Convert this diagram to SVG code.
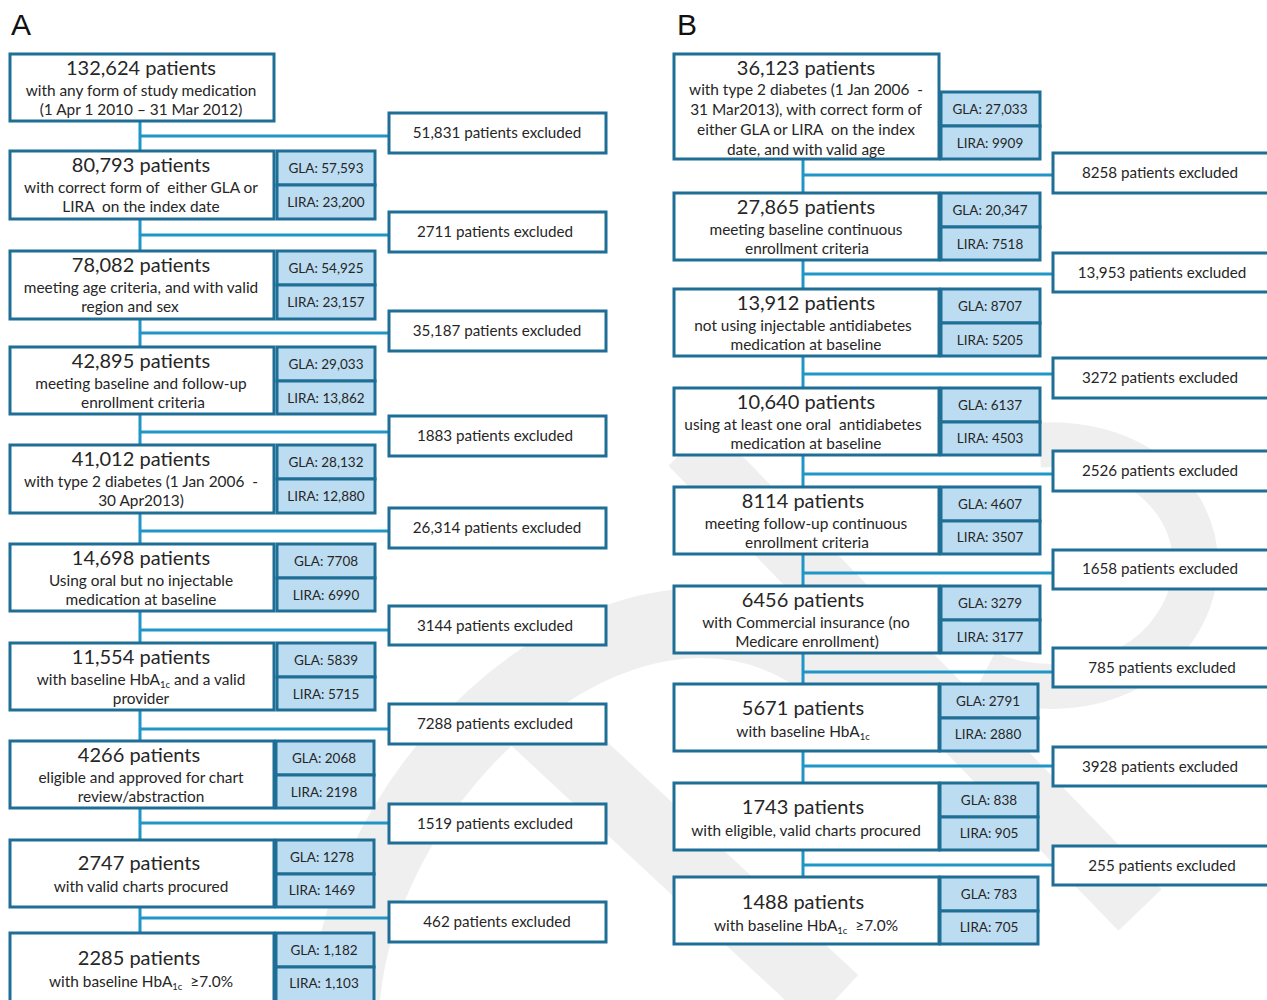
<svg xmlns="http://www.w3.org/2000/svg" width="1267" height="1000" viewBox="0 0 1267 1000" xml:space="preserve">
<style>
.bg{fill:#ffffff}
.wm{fill:none;stroke:#efefef;stroke-linecap:butt}
.main{fill:#ffffff;stroke:#1f6e96;stroke-width:3}
.side{fill:#bcdcf1;stroke:#1f6e96;stroke-width:3}
.excl{fill:#ffffff;stroke:#1f6e96;stroke-width:3}
.conn{fill:none;stroke:#2195c8;stroke-width:3}
text{font-family:Lato,"Open Sans","Liberation Sans",sans-serif;fill:#262626;text-anchor:middle;white-space:pre}
.t1{font-size:20px}
.t2{font-size:15.4px}
.ts{font-size:13.5px}
.te{font-size:15.2px}
.sub{font-size:9.5px}
.panel{font-family:"Liberation Sans",Arial,sans-serif;font-size:30px;text-anchor:start;fill:#111}
</style>
<rect class="bg" x="0" y="0" width="1267" height="1000"/>
<g id="watermark">
<path class="wm" stroke-width="70" d="M 345 1000 C 360 820 520 640 680 624 C 760 617 820 650 860 700"/>
<path class="wm" stroke-width="68" d="M 525 712 L 835 1000"/>
<path class="wm" stroke-width="60" d="M 690 445 L 1140 910"/>
<path class="wm" stroke-width="45" d="M 1040 445 C 1180 440 1235 560 1165 640 C 1115 695 1030 695 985 672"/>
</g>
<text class="panel" x="11" y="35">A</text>
<text class="panel" x="677" y="35">B</text>
<g id="connectors">
<path class="conn" d="M140 121 V933 M140 136 H389 M140 235 H389 M140 333 H389 M140 432 H389 M140 531 H389 M140 630 H389 M140 729 H389 M140 823 H389 M140 918 H389"/>
<path class="conn" d="M803 159 V877 M803 175 H1053 M803 274 H1053 M803 374 H1053 M803 474 H1053 M803 573 H1053 M803 672 H1053 M803 766 H1053 M803 865 H1053"/>
</g>
<g id="a1"><rect class="main" x="10" y="54" width="264" height="67"/><text class="t1" x="141" y="75">132,624 patients</text><text class="t2" x="141" y="96">with any form of study medication</text><text class="t2" x="141" y="115">(1 Apr 1 2010 – 31 Mar 2012)</text></g>
<g id="a2"><rect class="main" x="10" y="151" width="264" height="68"/><text class="t1" x="141" y="172">80,793 patients</text><text class="t2" x="141" y="193">with correct form of  either GLA or</text><text class="t2" x="141" y="212">LIRA  on the index date</text><rect class="side" x="277" y="151" width="98" height="34"/><text class="ts" x="326" y="173">GLA: 57,593</text><rect class="side" x="277" y="185" width="98" height="34"/><text class="ts" x="326" y="207">LIRA: 23,200</text></g>
<g id="a3"><rect class="main" x="10" y="251" width="264" height="68"/><text class="t1" x="141" y="272">78,082 patients</text><text class="t2" x="141" y="293">meeting age criteria, and with valid</text><text class="t2" x="130" y="312">region and sex</text><rect class="side" x="277" y="251" width="98" height="34"/><text class="ts" x="326" y="273">GLA: 54,925</text><rect class="side" x="277" y="285" width="98" height="34"/><text class="ts" x="326" y="307">LIRA: 23,157</text></g>
<g id="a4"><rect class="main" x="10" y="347" width="264" height="67"/><text class="t1" x="141" y="368">42,895 patients</text><text class="t2" x="141" y="389">meeting baseline and follow-up</text><text class="t2" x="143" y="408">enrollment criteria</text><rect class="side" x="277" y="347" width="98" height="34"/><text class="ts" x="326" y="369">GLA: 29,033</text><rect class="side" x="277" y="381" width="98" height="33"/><text class="ts" x="326" y="403">LIRA: 13,862</text></g>
<g id="a5"><rect class="main" x="10" y="445" width="264" height="68"/><text class="t1" x="141" y="466">41,012 patients</text><text class="t2" x="141" y="487">with type 2 diabetes (1 Jan 2006  -</text><text class="t2" x="141" y="506">30 Apr2013)</text><rect class="side" x="277" y="445" width="98" height="34"/><text class="ts" x="326" y="467">GLA: 28,132</text><rect class="side" x="277" y="479" width="98" height="34"/><text class="ts" x="326" y="501">LIRA: 12,880</text></g>
<g id="a6"><rect class="main" x="10" y="544" width="264" height="67"/><text class="t1" x="141" y="565">14,698 patients</text><text class="t2" x="141" y="586">Using oral but no injectable</text><text class="t2" x="141" y="605">medication at baseline</text><rect class="side" x="277" y="544" width="98" height="34"/><text class="ts" x="326" y="566">GLA: 7708</text><rect class="side" x="277" y="578" width="98" height="33"/><text class="ts" x="326" y="600">LIRA: 6990</text></g>
<g id="a7"><rect class="main" x="10" y="643" width="264" height="67"/><text class="t1" x="141" y="664">11,554 patients</text><text class="t2" x="141" y="685">with baseline HbA<tspan class="sub" dy="3">1c</tspan><tspan dy="-3"> and a valid</tspan></text><text class="t2" x="141" y="704">provider</text><rect class="side" x="277" y="643" width="98" height="34"/><text class="ts" x="326" y="665">GLA: 5839</text><rect class="side" x="277" y="677" width="98" height="33"/><text class="ts" x="326" y="699">LIRA: 5715</text></g>
<g id="a8"><rect class="main" x="10" y="741" width="264" height="67"/><text class="t1" x="139" y="762">4266 patients</text><text class="t2" x="141" y="783">eligible and approved for chart</text><text class="t2" x="141" y="802">review/abstraction</text><rect class="side" x="276" y="741" width="98" height="34"/><text class="ts" x="324" y="763">GLA: 2068</text><rect class="side" x="276" y="775" width="98" height="33"/><text class="ts" x="324" y="797">LIRA: 2198</text></g>
<g id="a9"><rect class="main" x="10" y="840" width="264" height="67"/><text class="t1" x="139" y="870">2747 patients</text><text class="t2" x="141" y="892">with valid charts procured</text><rect class="side" x="276" y="840" width="98" height="34"/><text class="ts" x="322" y="862">GLA: 1278</text><rect class="side" x="276" y="874" width="98" height="33"/><text class="ts" x="322" y="895">LIRA: 1469</text></g>
<g id="a10"><rect class="main" x="10" y="933" width="264" height="72"/><text class="t1" x="139" y="965">2285 patients</text><text class="t2" x="141" y="987">with baseline HbA<tspan class="sub" dy="3">1c</tspan><tspan dy="-3">  ≥7.0%</tspan></text><rect class="side" x="276" y="933" width="98" height="34"/><text class="ts" x="324" y="955">GLA: 1,182</text><rect class="side" x="276" y="967" width="98" height="36"/><text class="ts" x="324" y="988">LIRA: 1,103</text></g>
<g id="ae1"><rect class="excl" x="389" y="113" width="217" height="40"/><text class="te" x="497" y="138">51,831 patients excluded</text></g>
<g id="ae2"><rect class="excl" x="389" y="212" width="217" height="40"/><text class="te" x="495" y="237">2711 patients excluded</text></g>
<g id="ae3"><rect class="excl" x="389" y="311" width="217" height="40"/><text class="te" x="497" y="336">35,187 patients excluded</text></g>
<g id="ae4"><rect class="excl" x="389" y="416" width="217" height="40"/><text class="te" x="495" y="441">1883 patients excluded</text></g>
<g id="ae5"><rect class="excl" x="389" y="508" width="217" height="40"/><text class="te" x="497" y="533">26,314 patients excluded</text></g>
<g id="ae6"><rect class="excl" x="389" y="606" width="217" height="39"/><text class="te" x="495" y="631">3144 patients excluded</text></g>
<g id="ae7"><rect class="excl" x="389" y="704" width="217" height="40"/><text class="te" x="495" y="729">7288 patients excluded</text></g>
<g id="ae8"><rect class="excl" x="389" y="804" width="217" height="39"/><text class="te" x="495" y="829">1519 patients excluded</text></g>
<g id="ae9"><rect class="excl" x="389" y="902" width="217" height="40"/><text class="te" x="497" y="927">462 patients excluded</text></g>
<g id="b1"><rect class="main" x="674" y="54" width="265" height="105"/><text class="t1" x="806" y="75">36,123 patients</text><text class="t2" x="806" y="95">with type 2 diabetes (1 Jan 2006  -</text><text class="t2" x="806" y="115">31 Mar2013), with correct form of</text><text class="t2" x="806" y="135">either GLA or LIRA  on the index</text><text class="t2" x="806" y="155">date, and with valid age</text><rect class="side" x="941" y="92" width="99" height="34"/><text class="ts" x="990" y="114">GLA: 27,033</text><rect class="side" x="941" y="126" width="99" height="33"/><text class="ts" x="990" y="148">LIRA: 9909</text></g>
<g id="b2"><rect class="main" x="674" y="193" width="265" height="67"/><text class="t1" x="806" y="214">27,865 patients</text><text class="t2" x="806" y="235">meeting baseline continuous</text><text class="t2" x="807" y="254">enrollment criteria</text><rect class="side" x="941" y="193" width="99" height="34"/><text class="ts" x="990" y="215">GLA: 20,347</text><rect class="side" x="941" y="227" width="99" height="33"/><text class="ts" x="990" y="249">LIRA: 7518</text></g>
<g id="b3"><rect class="main" x="674" y="289" width="265" height="67"/><text class="t1" x="806" y="310">13,912 patients</text><text class="t2" x="803" y="331">not using injectable antidiabetes</text><text class="t2" x="806" y="350">medication at baseline</text><rect class="side" x="941" y="289" width="99" height="34"/><text class="ts" x="990" y="311">GLA: 8707</text><rect class="side" x="941" y="323" width="99" height="33"/><text class="ts" x="990" y="345">LIRA: 5205</text></g>
<g id="b4"><rect class="main" x="674" y="388" width="265" height="67"/><text class="t1" x="806" y="409">10,640 patients</text><text class="t2" x="803" y="430">using at least one oral  antidiabetes</text><text class="t2" x="806" y="449">medication at baseline</text><rect class="side" x="941" y="388" width="99" height="34"/><text class="ts" x="990" y="410">GLA: 6137</text><rect class="side" x="941" y="422" width="99" height="33"/><text class="ts" x="990" y="443">LIRA: 4503</text></g>
<g id="b5"><rect class="main" x="674" y="487" width="265" height="67"/><text class="t1" x="803" y="508">8114 patients</text><text class="t2" x="806" y="529">meeting follow-up continuous</text><text class="t2" x="807" y="548">enrollment criteria</text><rect class="side" x="941" y="487" width="99" height="34"/><text class="ts" x="990" y="509">GLA: 4607</text><rect class="side" x="941" y="521" width="99" height="33"/><text class="ts" x="990" y="542">LIRA: 3507</text></g>
<g id="b6"><rect class="main" x="674" y="586" width="265" height="67"/><text class="t1" x="803" y="607">6456 patients</text><text class="t2" x="806" y="628">with Commercial insurance (no</text><text class="t2" x="807" y="647">Medicare enrollment)</text><rect class="side" x="941" y="586" width="99" height="34"/><text class="ts" x="990" y="608">GLA: 3279</text><rect class="side" x="941" y="620" width="99" height="33"/><text class="ts" x="990" y="642">LIRA: 3177</text></g>
<g id="b7"><rect class="main" x="674" y="684" width="265" height="67"/><text class="t1" x="803" y="715">5671 patients</text><text class="t2" x="803" y="737">with baseline HbA<tspan class="sub" dy="3">1c</tspan></text><rect class="side" x="940" y="684" width="98" height="34"/><text class="ts" x="988" y="706">GLA: 2791</text><rect class="side" x="940" y="718" width="98" height="33"/><text class="ts" x="988" y="739">LIRA: 2880</text></g>
<g id="b8"><rect class="main" x="674" y="783" width="265" height="67"/><text class="t1" x="803" y="814">1743 patients</text><text class="t2" x="806" y="836">with eligible, valid charts procured</text><rect class="side" x="940" y="783" width="98" height="34"/><text class="ts" x="989" y="805">GLA: 838</text><rect class="side" x="940" y="817" width="98" height="33"/><text class="ts" x="989" y="838">LIRA: 905</text></g>
<g id="b9"><rect class="main" x="674" y="877" width="265" height="67"/><text class="t1" x="803" y="909">1488 patients</text><text class="t2" x="806" y="931">with baseline HbA<tspan class="sub" dy="3">1c</tspan><tspan dy="-3">  ≥7.0%</tspan></text><rect class="side" x="940" y="877" width="98" height="34"/><text class="ts" x="989" y="899">GLA: 783</text><rect class="side" x="940" y="911" width="98" height="33"/><text class="ts" x="989" y="932">LIRA: 705</text></g>
<g id="be1"><rect class="excl" x="1053" y="153" width="240" height="40"/><text class="te" x="1160" y="178">8258 patients excluded</text></g>
<g id="be2"><rect class="excl" x="1053" y="253" width="240" height="39"/><text class="te" x="1162" y="278">13,953 patients excluded</text></g>
<g id="be3"><rect class="excl" x="1053" y="358" width="240" height="40"/><text class="te" x="1160" y="383">3272 patients excluded</text></g>
<g id="be4"><rect class="excl" x="1053" y="451" width="240" height="40"/><text class="te" x="1160" y="476">2526 patients excluded</text></g>
<g id="be5"><rect class="excl" x="1053" y="550" width="240" height="39"/><text class="te" x="1160" y="574">1658 patients excluded</text></g>
<g id="be6"><rect class="excl" x="1053" y="648" width="240" height="39"/><text class="te" x="1162" y="673">785 patients excluded</text></g>
<g id="be7"><rect class="excl" x="1053" y="747" width="240" height="39"/><text class="te" x="1160" y="772">3928 patients excluded</text></g>
<g id="be8"><rect class="excl" x="1053" y="846" width="240" height="39"/><text class="te" x="1162" y="871">255 patients excluded</text></g>
</svg>
